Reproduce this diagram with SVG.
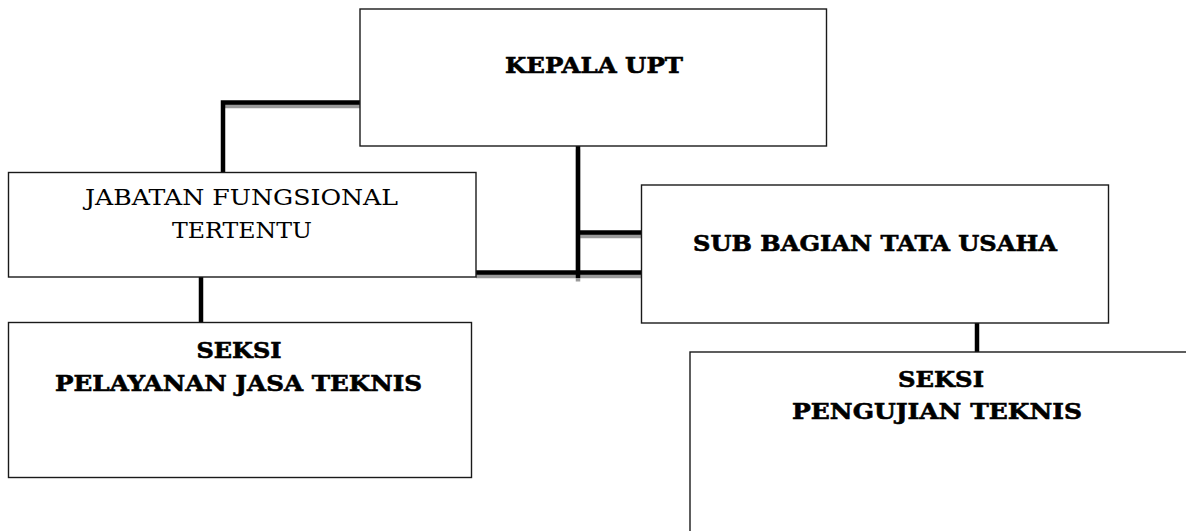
<svg xmlns="http://www.w3.org/2000/svg" width="1186" height="531" viewBox="0 0 1186 531">
<style>
.box{fill:#fff;stroke:#1a1a1a;stroke-width:1.4}
.t{font-family:"DejaVu Serif","Liberation Serif",serif;font-size:22.5px;fill:#000;text-anchor:middle}
.b{font-weight:bold;stroke:#000;stroke-width:0.6}
.r{font-weight:normal;font-size:21.5px}
.ln{stroke:#000;stroke-width:4.5;fill:none}
.sh{stroke:#9a9a9a;stroke-width:4.5;fill:none}
</style>
<rect width="1186" height="531" fill="#fff"/>
<g id="connectors">
  <g transform="translate(0,3.5)">
    <path class="sh" d="M223 102.5 H360"/>
    <path class="sh" d="M578 146 V278"/>
    <path class="sh" d="M576 232.5 H641"/>
    <path class="sh" d="M476 272.5 H641"/>
  </g>
  <path class="ln" d="M360 102.5 H223 V172"/>
  <path class="ln" d="M578 146 V278"/>
  <path class="ln" d="M578 232.5 H641"/>
  <path class="ln" d="M476 272.5 H641"/>
  <path class="ln" d="M201 277 V322"/>
  <path class="ln" d="M977 323 V352"/>
</g>
<g id="kepala-upt">
  <rect class="box" x="360" y="9" width="466.5" height="137"/>
  <text class="t b" x="594" y="73" textLength="178" lengthAdjust="spacingAndGlyphs">KEPALA UPT</text>
</g>
<g id="jabatan-fungsional">
  <rect class="box" x="8.5" y="172.5" width="467.5" height="104.5"/>
  <text class="t r" x="241.5" y="205" textLength="313" lengthAdjust="spacingAndGlyphs">JABATAN FUNGSIONAL</text>
  <text class="t r" x="242" y="238" textLength="140" lengthAdjust="spacingAndGlyphs">TERTENTU</text>
</g>
<g id="sub-bagian-tata-usaha">
  <rect class="box" x="641.5" y="185" width="467" height="138"/>
  <text class="t b" x="875" y="251" textLength="364" lengthAdjust="spacingAndGlyphs">SUB BAGIAN TATA USAHA</text>
</g>
<g id="seksi-pelayanan">
  <rect class="box" x="8.5" y="322.5" width="463" height="155"/>
  <text class="t b" x="239" y="358" textLength="85" lengthAdjust="spacingAndGlyphs">SEKSI</text>
  <text class="t b" x="238.5" y="391" textLength="367" lengthAdjust="spacingAndGlyphs">PELAYANAN JASA TEKNIS</text>
</g>
<g id="seksi-pengujian">
  <rect class="box" x="690" y="352" width="520" height="200"/>
  <text class="t b" x="941" y="387" textLength="86" lengthAdjust="spacingAndGlyphs">SEKSI</text>
  <text class="t b" x="937" y="419" textLength="290" lengthAdjust="spacingAndGlyphs">PENGUJIAN TEKNIS</text>
</g>
</svg>
